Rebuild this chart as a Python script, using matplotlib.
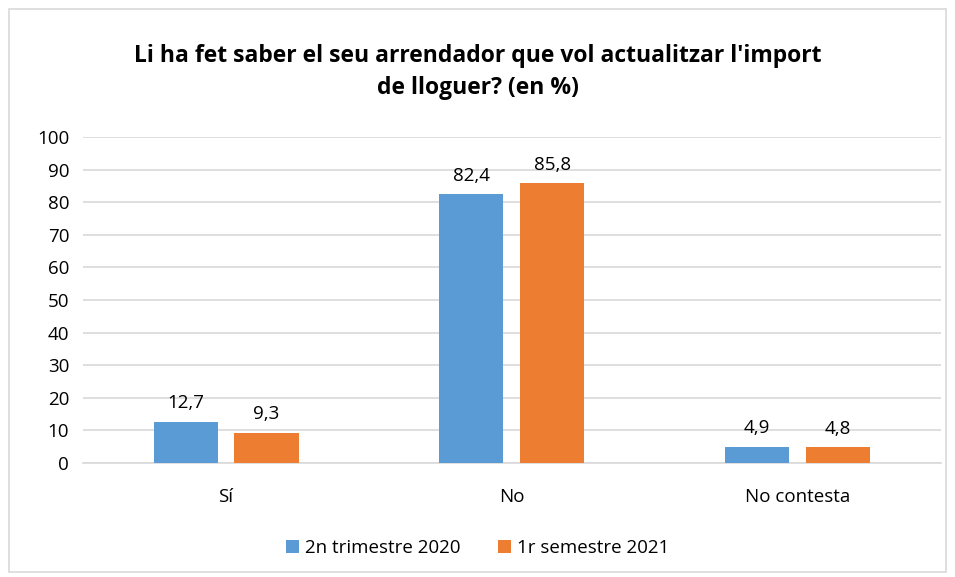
import numpy as np
import matplotlib.pyplot as plt
from matplotlib.patches import Rectangle

plt.rcParams['font.family'] = ['Open Sans', 'DejaVu Sans']

# Data
categories = ['Sí', 'No', 'No contesta']
series_names = ['2n trimestre 2020', '1r semestre 2021']
values_2020 = [12.7, 82.4, 4.9]
values_2021 = [9.3, 85.8, 4.8]
yticks = [0, 10, 20, 30, 40, 50, 60, 70, 80, 90, 100]

title = "Li ha fet saber el seu arrendador que vol actualitzar l'import\nde lloguer? (en %)"

blue = '#5B9BD5'
orange = '#ED7D31'

fig = plt.figure(figsize=(9.55, 5.77), dpi=100)
ax = fig.add_axes([0.087, 0.1976, 0.898, 0.565])

x = np.arange(len(categories))
w = 0.224
off = 0.1416
b1 = ax.bar(x - off, values_2020, w, color=blue, label=series_names[0], zorder=3)
b2 = ax.bar(x + off, values_2021, w, color=orange, label=series_names[1], zorder=3)

for bars, vals in ((b1, values_2020), (b2, values_2021)):
    for bar, v in zip(bars, vals):
        ax.annotate(f"{v:.1f}".replace('.', ','),
                    (bar.get_x() + bar.get_width() / 2, v),
                    xytext=(0, 7), textcoords='offset points',
                    ha='center', va='bottom', fontsize=13.5, color='#000000')

ax.set_xlim(-0.5, len(categories) - 0.5)
ax.set_ylim(0, 100)
ax.set_yticks(yticks)
ax.set_yticklabels([str(t) for t in yticks], fontsize=13.5)
ax.set_xticks(x)
ax.set_xticklabels(categories, fontsize=13.5)
ax.tick_params(axis='y', length=0, pad=10)
ax.tick_params(axis='x', length=0, pad=18)
ax.grid(axis='y', color='#D9D9D9', linewidth=1.2, zorder=0)
for s in ['top', 'right', 'left']:
    ax.spines[s].set_visible(False)
ax.spines['bottom'].set_color('#D9D9D9')
ax.spines['bottom'].set_linewidth(1.2)

fig.text(0.5, 0.875, title, ha='center', va='center', fontsize=16.5,
         fontweight='bold', linespacing=1.45)

fig.legend(loc='center', bbox_to_anchor=(0.5, 0.05), ncol=2, frameon=False,
           fontsize=13.5, handlelength=0.7, handleheight=0.7,
           handletextpad=0.3, columnspacing=2.0)

fig.patches.append(Rectangle((0.009, 0.009), 0.982, 0.975, transform=fig.transFigure,
                             fill=False, edgecolor='#D9D9D9', linewidth=1.2))

fig.savefig('out.png', dpi=100, facecolor='white')
